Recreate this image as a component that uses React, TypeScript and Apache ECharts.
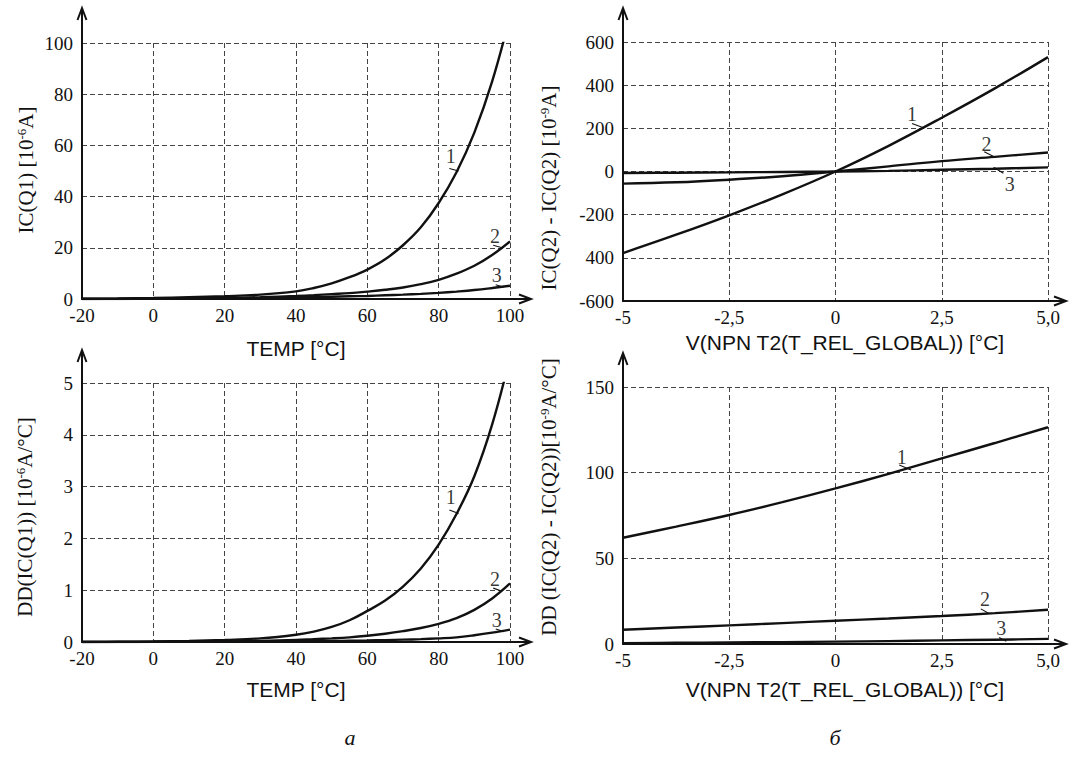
import { useEffect, useRef } from 'react';
import * as echarts from 'echarts';

const SERIF = '"Liberation Serif", "Times New Roman", Times, serif';
const SANS = '"Liberation Sans", Arial, Helvetica, sans-serif';
const INK = '#111';

// ---------- panel a: TEMP axis samples ----------
const TEMP = [-20, -10, 0, 10, 20, 30, 40, 45, 50, 55, 60, 65, 70, 75, 80, 85, 90, 95, 100];

// top: IC(Q1) [10^-6 A]
const IC_Q1_1 = [0.1, 0.2, 0.4, 0.7, 1.1, 1.7, 3.0, 4.3, 6.1, 8.5, 11.5, 15.5, 21, 28, 37.5, 49.5, 65, 85, 110.5];
const IC_Q1_2 = [0, 0.05, 0.1, 0.25, 0.4, 0.7, 1.2, 1.5, 1.9, 2.3, 2.9, 3.6, 4.5, 5.8, 7.5, 9.9, 13, 17.2, 22.5];
const IC_Q1_3 = [0, 0.02, 0.05, 0.1, 0.2, 0.35, 0.6, 0.75, 0.9, 1.05, 1.2, 1.45, 1.7, 2.0, 2.4, 2.9, 3.5, 4.3, 5.2];

// bottom: DD(IC(Q1)) [10^-6 A/°C]
const DD_Q1_1 = [0, 0.005, 0.01, 0.02, 0.04, 0.07, 0.14, 0.2, 0.29, 0.42, 0.6, 0.8, 1.07, 1.42, 1.88, 2.47, 3.2, 4.2, 5.5];
const DD_Q1_2 = [0, 0.002, 0.004, 0.007, 0.012, 0.022, 0.04, 0.055, 0.07, 0.09, 0.12, 0.16, 0.21, 0.27, 0.35, 0.46, 0.62, 0.84, 1.13];
const DD_Q1_3 = [0, 0, 0.002, 0.004, 0.006, 0.008, 0.012, 0.016, 0.02, 0.025, 0.03, 0.037, 0.045, 0.055, 0.07, 0.09, 0.13, 0.18, 0.24];

// ---------- panel б: vs V(NPN T2(T_REL_GLOBAL)) ----------
const V_REL = [-5, -3.75, -2.5, -1.25, 0, 1.25, 2.5, 3.75, 5];
const DIFF_1 = [-378, -293, -203, -106, 0, 119, 249, 385, 530];
const DIFF_2 = [-56, -50, -38, -22, 0, 24, 48, 68, 88];
const DIFF_3 = [-7, -5.5, -4, -2, 0, 3, 8, 13, 19];
const DD_DIFF_1 = [62, 68.5, 75.3, 82.8, 90.8, 99.3, 108.3, 117.3, 126.5];
const DD_DIFF_2 = [8.3, 9.6, 10.9, 12.2, 13.6, 14.9, 16.3, 18, 20];
const DD_DIFF_3 = [0.5, 0.7, 0.9, 1.1, 1.4, 1.7, 2.1, 2.5, 3.0];

// tick labels
const TEMP_TICK_LABELS = ['-20', '0', '20', '40', '60', '80', '100'];
const IC_TICK_LABELS = ['0', '20', '40', '60', '80', '100'];
const DD_TICK_LABELS = ['0', '1', '2', '3', '4', '5'];
const V_TICK_LABELS = ['-5', '-2,5', '0', '2,5', '5,0'];
const DIFF_TICK_LABELS = ['-600', '400', '-200', '0', '200', '400', '600'];
const DD_DIFF_TICK_LABELS = ['0', '50', '100', '150'];

// curve number labels [text, x, y] and leader strokes [x1, y1, x2, y2] in data units
const LBL_TL: [string, number, number][] = [['1', 83.4, 56], ['2', 95.8, 24.5], ['3', 96.3, 9.3]];
const LEAD_TL: number[][] = [[83, 51, 85.6, 50], [95.3, 21, 97.8, 20], [96, 5.6, 98.2, 4.6]];
const LBL_BL: [string, number, number][] = [['1', 83.4, 2.8], ['2', 95.8, 1.22], ['3', 96.3, 0.43]];
const LEAD_BL: number[][] = [[83, 2.55, 85.6, 2.48], [95.3, 1.04, 97.8, 0.98], [96, 0.25, 98.2, 0.2]];
const LBL_TR: [string, number, number][] = [['1', 1.8, 268], ['2', 3.55, 128], ['3', 4.1, -60]];
const LEAD_TR: number[][] = [[1.8, 222, 2.07, 203], [3.5, 92, 3.72, 70], [3.72, 20, 3.95, -8]];
const LBL_BR: [string, number, number][] = [['1', 1.56, 109], ['2', 3.52, 26], ['3', 3.9, 9.4]];
const LEAD_BR: number[][] = [[1.5, 104.5, 1.78, 101.5], [3.42, 20.5, 3.6, 18], [3.85, 3.8, 4.02, 1.6]];

// layout
const GRIDS = [
  { left: 82, top: 43, width: 428, height: 256 },
  { left: 623, top: 42, width: 425, height: 259 },
  { left: 82, top: 383, width: 428, height: 259 },
  { left: 623, top: 387, width: 425, height: 257 },
];
const ARROW_TIPS = [
  { x: 531, y: 8 },
  { x: 1066, y: 8 },
  { x: 531, y: 350 },
  { x: 1066, y: 353 },
];

const zip = (xs: number[], ys: number[]) => xs.map((x, i) => [x, ys[i]]);

function curve(idx: number, xs: number[], ys: number[]) {
  return {
    type: 'line',
    xAxisIndex: idx,
    yAxisIndex: idx,
    data: zip(xs, ys),
    showSymbol: false,
    smooth: 0.4,
    clip: true,
    lineStyle: { color: INK, width: 2.4 },
    silent: true,
  };
}

function labels(idx: number, lbl: [string, number, number][]) {
  return {
    type: 'scatter',
    xAxisIndex: idx,
    yAxisIndex: idx,
    symbolSize: 0.1,
    itemStyle: { color: INK },
    data: lbl.map(([t, x, y]) => ({ name: t, value: [x, y] })),
    label: {
      show: true,
      position: 'inside',
      formatter: '{b}',
      fontFamily: SERIF,
      fontSize: 20,
      color: '#000',
      textBorderWidth: 0,
      textBorderColor: 'transparent',
    },
    silent: true,
  };
}

function leaders(idx: number, lead: number[][]) {
  return lead.map((l) => ({
    type: 'line',
    xAxisIndex: idx,
    yAxisIndex: idx,
    data: [[l[0], l[1]], [l[2], l[3]]],
    showSymbol: false,
    lineStyle: { color: INK, width: 1.1 },
    silent: true,
  }));
}

function axis(idx: number, min: number, max: number, interval: number, lbls: string[], isX: boolean) {
  return {
    gridIndex: idx,
    type: 'value',
    min,
    max,
    interval,
    axisLine: { show: true, onZero: false, lineStyle: { color: INK, width: 2 } },
    axisTick: { show: false },
    axisLabel: {
      fontFamily: SERIF,
      fontSize: 19,
      color: INK,
      margin: isX ? 7 : 9,
      formatter: (_v: number, i: number) => lbls[i] ?? '',
    },
    splitLine: { show: true, lineStyle: { color: '#444', width: 1, type: [5, 3] } },
  };
}

function yName(x: number, y: number, parts: [string, string, string], size: number) {
  return {
    type: 'text',
    x,
    y,
    rotation: Math.PI / 2,
    style: {
      text: `{n|${parts[0]}}{s|${parts[1]}}{n|${parts[2]}}`,
      align: 'center',
      verticalAlign: 'middle',
      fill: INK,
      rich: {
        n: { fontFamily: SERIF, fontSize: size, fill: INK, lineHeight: size + 2 },
        s: { fontFamily: SERIF, fontSize: Math.round(size * 0.6), fill: INK, verticalAlign: 'top', lineHeight: size + 2 },
      },
    },
  };
}

function xName(x: number, y: number, text: string) {
  return {
    type: 'text',
    x,
    y,
    style: { text, fontFamily: SANS, fontSize: 21, fill: INK, align: 'center', verticalAlign: 'middle' },
  };
}

export default function App() {
  const ref = useRef<HTMLDivElement>(null);
  useEffect(() => {
    if (!ref.current) return;
    const chart = echarts.init(ref.current, undefined, { renderer: 'svg' });

    const graphic: any[] = [];
    GRIDS.forEach((g, i) => {
      const tip = ARROW_TIPS[i];
      const bottom = g.top + g.height;
      const right = g.left + g.width;
      const st = { stroke: INK, lineWidth: 2, fill: 'none' };
      graphic.push({ type: 'line', shape: { x1: g.left, y1: g.top, x2: g.left, y2: tip.y }, style: st, silent: true });
      graphic.push({ type: 'polyline', shape: { points: [[g.left - 4.5, tip.y + 12], [g.left, tip.y], [g.left + 4.5, tip.y + 12]] }, style: st, silent: true });
      graphic.push({ type: 'line', shape: { x1: right, y1: bottom, x2: tip.x, y2: bottom }, style: st, silent: true });
      graphic.push({ type: 'polyline', shape: { points: [[tip.x - 12, bottom - 4.5], [tip.x, bottom], [tip.x - 12, bottom + 4.5]] }, style: st, silent: true });
    });
    graphic.push(xName(296, 348, 'TEMP [°C]'));
    graphic.push(xName(296, 689, 'TEMP [°C]'));
    graphic.push(xName(845, 342, 'V(NPN T2(T_REL_GLOBAL)) [°C]'));
    graphic.push(xName(845, 689, 'V(NPN T2(T_REL_GLOBAL)) [°C]'));
    graphic.push(yName(26, 170, ['IC(Q1) [10', '-6', 'A]'], 21));
    graphic.push(yName(549, 188, ['IC(Q2) - IC(Q2) [10', '-9', 'A]'], 21));
    graphic.push(yName(25, 517, ['DD(IC(Q1)) [10', '-6', 'A/°C]'], 21));
    graphic.push(yName(549, 497, ['DD (IC(Q2) - IC(Q2))[10', '-9', 'A/°C]'], 21));
    graphic.push({ type: 'text', x: 350, y: 737, style: { text: 'а', fontFamily: SERIF, fontStyle: 'italic', fontSize: 22, fill: INK, align: 'center', verticalAlign: 'middle' } });
    graphic.push({ type: 'text', x: 835, y: 737, style: { text: 'б', fontFamily: SERIF, fontStyle: 'italic', fontSize: 22, fill: INK, align: 'center', verticalAlign: 'middle' } });

    chart.setOption({
      animation: false,
      backgroundColor: '#ffffff',
      grid: GRIDS.map((g) => ({ ...g, containLabel: false })),
      xAxis: [
        axis(0, -20, 100, 20, TEMP_TICK_LABELS, true),
        axis(1, -5, 5, 2.5, V_TICK_LABELS, true),
        axis(2, -20, 100, 20, TEMP_TICK_LABELS, true),
        axis(3, -5, 5, 2.5, V_TICK_LABELS, true),
      ],
      yAxis: [
        axis(0, 0, 100, 20, IC_TICK_LABELS, false),
        axis(1, -600, 600, 200, DIFF_TICK_LABELS, false),
        axis(2, 0, 5, 1, DD_TICK_LABELS, false),
        axis(3, 0, 150, 50, DD_DIFF_TICK_LABELS, false),
      ],
      series: [
        curve(0, TEMP, IC_Q1_1),
        curve(0, TEMP, IC_Q1_2),
        curve(0, TEMP, IC_Q1_3),
        curve(1, V_REL, DIFF_1),
        curve(1, V_REL, DIFF_2),
        curve(1, V_REL, DIFF_3),
        curve(2, TEMP, DD_Q1_1),
        curve(2, TEMP, DD_Q1_2),
        curve(2, TEMP, DD_Q1_3),
        curve(3, V_REL, DD_DIFF_1),
        curve(3, V_REL, DD_DIFF_2),
        curve(3, V_REL, DD_DIFF_3),
        labels(0, LBL_TL),
        labels(1, LBL_TR),
        labels(2, LBL_BL),
        labels(3, LBL_BR),
        ...leaders(0, LEAD_TL),
        ...leaders(1, LEAD_TR),
        ...leaders(2, LEAD_BL),
        ...leaders(3, LEAD_BR),
      ],
      graphic,
    });
    return () => chart.dispose();
  }, []);
  return (
    <div
      ref={ref}
      style={{ position: 'absolute', left: 0, top: 0, width: 1074, height: 762, background: '#fff' }}
    />
  );
}
